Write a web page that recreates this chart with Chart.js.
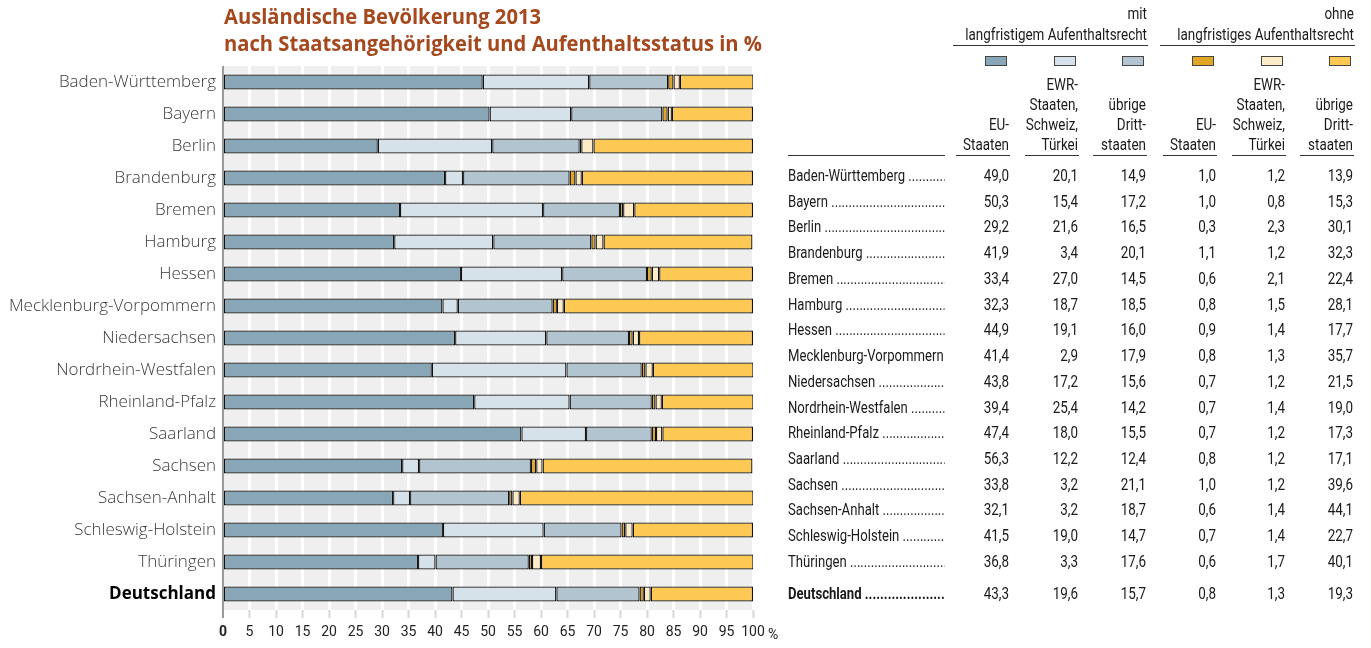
<!DOCTYPE html>
<html lang="de">
<head>
<meta charset="utf-8">
<script src="https://cdn.jsdelivr.net/npm/chart.js@4.4.1/dist/chart.umd.min.js"></script>
<style>
  html, body { margin: 0; padding: 0; background: #fff; }
  body { width: 1371px; height: 648px; position: relative; overflow: hidden; }
  #chartBox { position: absolute; left: 0; top: 0; width: 780px; height: 648px; }
  #title {
    position: absolute; left: 224px; top: 3px;
    font-family: "Open Sans", sans-serif; font-weight: 700; font-size: 21px;
    line-height: 27px; color: #a5481d; white-space: nowrap;
    transform-origin: left top;
  }
  #table { position: absolute; left: 0; top: 0; width: 1371px; height: 648px;
    font-family: Roboto, sans-serif; font-size: 16px; color: #1a1a1a; }
  .cell { position: absolute; white-space: nowrap; line-height: 20px; }
  .r { text-align: right; transform-origin: right center; transform: scaleX(0.84); }
  .l { text-align: left; transform-origin: left center; transform: scaleX(0.82); }
  .rule { position: absolute; height: 0; border-top: 1px solid #333; }
  .swatch { position: absolute; width: 20px; height: 8px; border: 1px solid #444; }
</style>
</head>
<body>
<div id="chartBox"><canvas id="barChart" width="780" height="648"></canvas></div>
<div id="title"><div>Ausländische Bevölkerung 2013</div><div>nach Staatsangehörigkeit und Aufenthaltsstatus in %</div></div>
<div id="table"></div>

<script>
// ------------------------------
// DATA
// ------------------------------

const states = [
  "Baden-Württemberg", "Bayern", "Berlin", "Brandenburg", "Bremen", "Hamburg",
  "Hessen", "Mecklenburg-Vorpommern", "Niedersachsen", "Nordrhein-Westfalen",
  "Rheinland-Pfalz", "Saarland", "Sachsen", "Sachsen-Anhalt",
  "Schleswig-Holstein", "Thüringen", "Deutschland"
];

// mit langfristigem Aufenthaltsrecht
const euMit    = [49.0, 50.3, 29.2, 41.9, 33.4, 32.3, 44.9, 41.4, 43.8, 39.4, 47.4, 56.3, 33.8, 32.1, 41.5, 36.8, 43.3];
const ewrMit   = [20.1, 15.4, 21.6, 3.4, 27.0, 18.7, 19.1, 2.9, 17.2, 25.4, 18.0, 12.2, 3.2, 3.2, 19.0, 3.3, 19.6];
const drittMit = [14.9, 17.2, 16.5, 20.1, 14.5, 18.5, 16.0, 17.9, 15.6, 14.2, 15.5, 12.4, 21.1, 18.7, 14.7, 17.6, 15.7];

// ohne langfristiges Aufenthaltsrecht
const euOhne    = [1.0, 1.0, 0.3, 1.1, 0.6, 0.8, 0.9, 0.8, 0.7, 0.7, 0.7, 0.8, 1.0, 0.6, 0.7, 0.6, 0.8];
const ewrOhne   = [1.2, 0.8, 2.3, 1.2, 2.1, 1.5, 1.4, 1.3, 1.2, 1.4, 1.2, 1.2, 1.2, 1.4, 1.4, 1.7, 1.3];
const drittOhne = [13.9, 15.3, 30.1, 32.3, 22.4, 28.1, 17.7, 35.7, 21.5, 19.0, 17.3, 17.1, 39.6, 44.1, 22.7, 40.1, 19.3];

const seriesNames = [
  "EU-Staaten", "EWR-Staaten, Schweiz, Türkei", "übrige Drittstaaten",
  "EU-Staaten", "EWR-Staaten, Schweiz, Türkei", "übrige Drittstaaten"
];
const headerLines = [
  ["EU-", "Staaten"],
  ["EWR-", "Staaten,", "Schweiz,", "Türkei"],
  ["übrige", "Dritt-", "staaten"],
  ["EU-", "Staaten"],
  ["EWR-", "Staaten,", "Schweiz,", "Türkei"],
  ["übrige", "Dritt-", "staaten"]
];
const groupLabels = [["mit", "langfristigem Aufenthaltsrecht"], ["ohne", "langfristiges Aufenthaltsrecht"]];
const xTicks = [0, 5, 10, 15, 20, 25, 30, 35, 40, 45, 50, 55, 60, 65, 70, 75, 80, 85, 90, 95, 100];

const seriesValues = [euMit, ewrMit, drittMit, euOhne, ewrOhne, drittOhne];
const seriesColors = ["#88a6b6", "#d5e2e9", "#b1c4d0", "#e0a526", "#feebc8", "#fec855"];

// ------------------------------
// HELPERS
// ------------------------------

const LABEL_SCALE = 0.82;

function fmt(v) {
  return v.toFixed(1).replace(".", ",");
}

function isTotal(i) {
  return states[i] === "Deutschland";
}

// ------------------------------
// CHART
// ------------------------------

const plotBackground = {
  id: "plotBackground",
  beforeDraw(chart) {
    const { ctx, chartArea } = chart;
    ctx.save();
    ctx.fillStyle = "#efefef";
    ctx.fillRect(chartArea.left, chartArea.top, chartArea.right - chartArea.left, chartArea.bottom - chartArea.top);
    ctx.restore();
  }
};

const percentSign = {
  id: "percentSign",
  afterDraw(chart) {
    const { ctx, chartArea } = chart;
    const x = chart.scales.x.getPixelForValue(100) + 15;
    ctx.save();
    ctx.font = "14px Roboto, sans-serif";
    ctx.fillStyle = "#222";
    ctx.textAlign = "left";
    ctx.textBaseline = "middle";
    ctx.fillText("%", x, chartArea.bottom + 25);
    ctx.restore();
  }
};

function renderChart() {
  const ctx = document.getElementById("barChart").getContext("2d");

  const datasets = seriesValues.map((values, i) => ({
    label: seriesNames[i],
    data: values,
    backgroundColor: seriesColors[i],
    borderColor: "#111",
    borderWidth: 1.3,
    borderSkipped: false,
    barPercentage: 0.47,
    categoryPercentage: 1
  }));

  new Chart(ctx, {
    type: "bar",
    data: { labels: states, datasets },
    options: {
      indexAxis: "y",
      responsive: false,
      animation: false,
      layout: { padding: { top: 66, right: 27, left: 0, bottom: 0 } },
      plugins: {
        legend: { display: false },
        tooltip: { enabled: false }
      },
      scales: {
        x: {
          stacked: true,
          min: 0,
          max: 100,
          afterBuildTicks(scale) {
            scale.ticks = xTicks.map((v) => ({ value: v }));
          },
          afterFit(scale) {
            scale.height = 38;
          },
          ticks: {
            autoSkip: false,
            maxRotation: 0,
            padding: 6,
            color: "#222",
            font(c) {
              return {
                family: "Roboto, sans-serif",
                size: 14,
                weight: c.tick && c.tick.value === 0 ? "bold" : "normal"
              };
            }
          },
          grid: {
            color(c) {
              return c.tick && c.tick.value === 0 ? "#9a9a9a" : "#ffffff";
            },
            lineWidth(c) {
              return c.tick && c.tick.value === 0 ? 2 : 3;
            },
            tickColor(c) {
              return c.tick && c.tick.value === 0 ? "#9a9a9a" : "#d6d6d6";
            },
            tickLength: 8,
            tickWidth: 2
          },
          border: { display: false }
        },
        y: {
          stacked: true,
          afterFit(scale) {
            scale.width = 223;
          },
          grid: { display: false, drawTicks: false },
          border: { display: false },
          ticks: {
            padding: 7,
            color(c) {
              return isTotal(c.index) ? "#000" : "#3a3a3a";
            },
            font(c) {
              return {
                family: '"Open Sans", sans-serif',
                size: 17,
                weight: isTotal(c.index) ? "bold" : "300"
              };
            }
          }
        }
      }
    },
    plugins: [plotBackground, percentSign]
  });
}

// ------------------------------
// TABLE
// ------------------------------

const colRight = [1009, 1078, 1146, 1216, 1285, 1353];
const colWidth = 54;
const labelLeft = 788;
const labelWidth = 157;

function addCell(parent, text, left, top, width, cls, extraStyle) {
  const el = document.createElement("div");
  el.className = "cell " + (cls || "");
  el.textContent = text;
  el.style.left = left + "px";
  el.style.top = top + "px";
  if (width) el.style.width = width + "px";
  if (extraStyle) Object.assign(el.style, extraStyle);
  parent.appendChild(el);
  return el;
}

function addRightCell(parent, text, right, top, extraStyle) {
  const w = 260;
  return addCell(parent, text, right - w, top, w, "r", extraStyle);
}

function addRule(parent, left, top, width) {
  const el = document.createElement("div");
  el.className = "rule";
  el.style.left = left + "px";
  el.style.top = top + "px";
  el.style.width = width + "px";
  parent.appendChild(el);
}

function renderTable() {
  const table = document.getElementById("table");

  // group headers
  groupLabels.forEach((lines, g) => {
    const right = colRight[g * 3 + 2] + 2;
    const left = colRight[g * 3] - colWidth - 2;
    addRightCell(table, lines[0], right - 1, 4);
    addRightCell(table, lines[1], right - 1, 25);
    addRule(table, left, 45, right - left);
  });

  // swatches and column headers
  headerLines.forEach((lines, c) => {
    const sw = document.createElement("div");
    sw.className = "swatch";
    sw.style.left = (colRight[c] - 24) + "px";
    sw.style.top = "56px";
    sw.style.background = seriesColors[c];
    table.appendChild(sw);

    lines.forEach((line, k) => {
      const top = 135 - (lines.length - 1 - k) * 20;
      addRightCell(table, line, colRight[c], top);
    });
    addRule(table, colRight[c] - colWidth + 1, 155, colWidth);
  });
  addRule(table, labelLeft, 155, labelWidth);

  // data rows
  states.forEach((name, i) => {
    const yc = isTotal(i) ? 594 : 176 + i * 25.73;
    const top = Math.round(yc - 10);
    const weight = isTotal(i) ? "bold" : "normal";
    addCell(table, name + "  " + ".".repeat(90), labelLeft, top, Math.round(labelWidth / LABEL_SCALE), "l",
      { overflow: "hidden", fontWeight: weight });
    seriesValues.forEach((values, c) => {
      addRightCell(table, fmt(values[i]), colRight[c], top);
    });
  });
}

function fitTitle() {
  const title = document.getElementById("title");
  const w = title.getBoundingClientRect().width;
  title.style.transform = "scaleX(" + (538 / w) + ")";
}

document.addEventListener("DOMContentLoaded", () => {
  renderChart();
  renderTable();
  fitTitle();
});
</script>
</body>
</html>
